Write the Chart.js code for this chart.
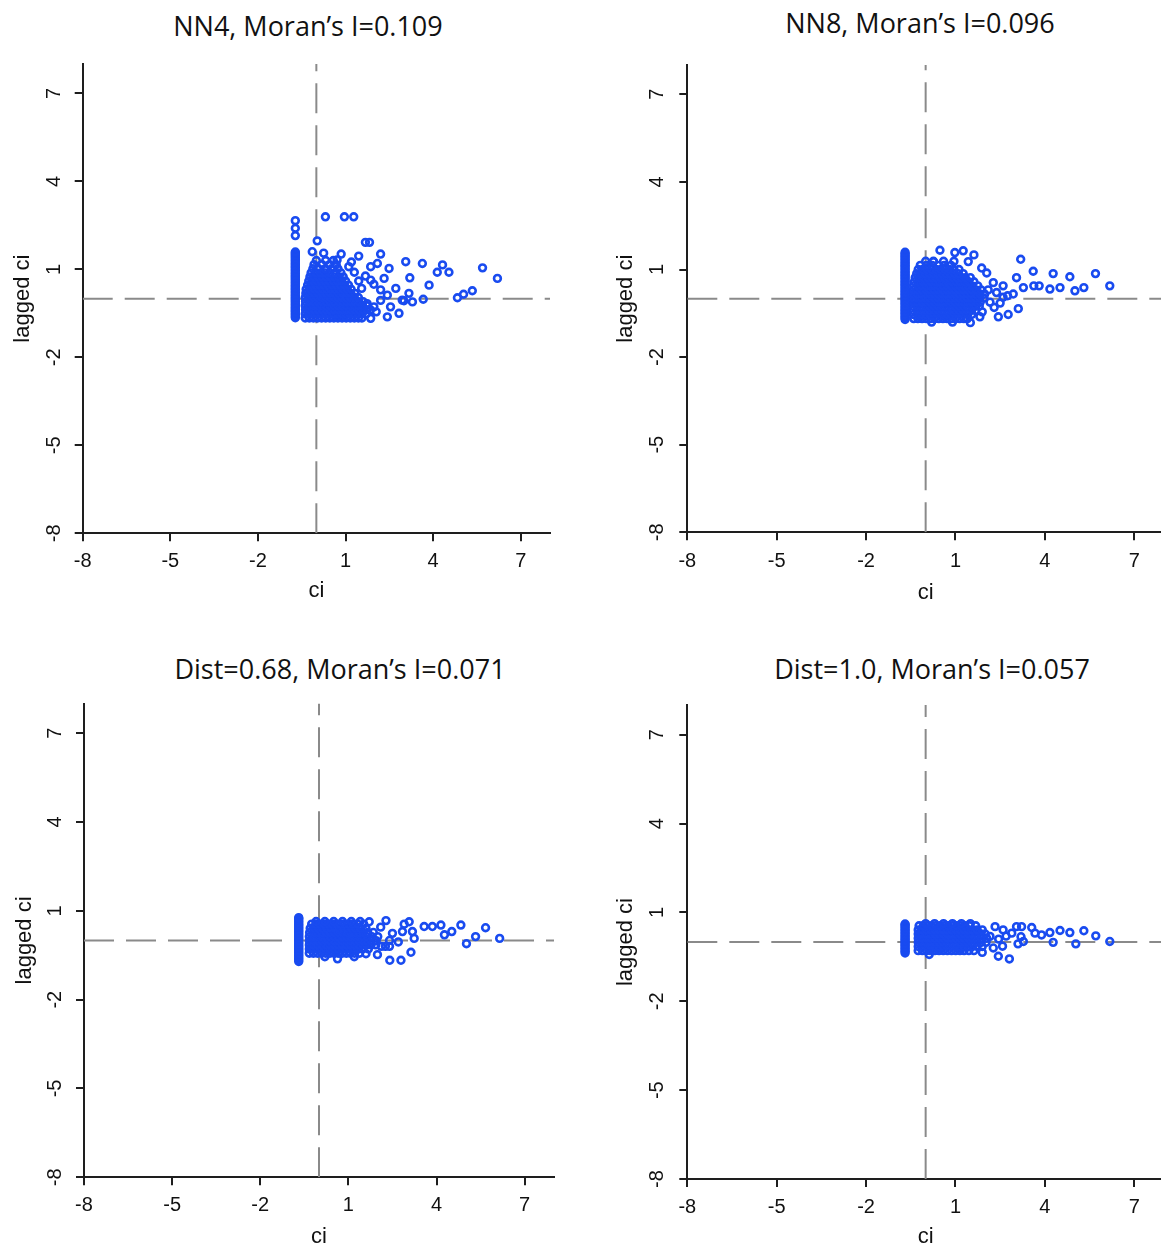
<!DOCTYPE html>
<html>
<head>
<meta charset="utf-8">
<script src="https://cdn.jsdelivr.net/npm/chart.js@4.4.0/dist/chart.umd.min.js"></script>
<style>
html, body { margin: 0; padding: 0; background: #ffffff; overflow: hidden; width: 1161px; height: 1245px; position: relative; }
canvas { position: absolute; }
.ptitle { position: absolute; font-family: "Open Sans", "Noto Sans", sans-serif; font-size: 27px; color: #111; white-space: nowrap; transform: translate(-50%, -50%); line-height: 1; }
</style>
</head>
<body>
<script>
// ---------- shared axis data ----------
const tickValues = [-8, -5, -2, 1, 4, 7];
const axisMin = -8;
const axisMax = 8;
const meanCi = 0;        // vertical dashed line
const meanLaggedCi = 0;  // horizontal dashed line
const xAxisTitle = 'ci';
const yAxisTitle = 'lagged ci';
const panelTitles = [
  'NN4, Moran\u2019s I=0.109',
  'NN8, Moran\u2019s I=0.096',
  'Dist=0.68, Moran\u2019s I=0.071',
  'Dist=1.0, Moran\u2019s I=0.057'
];

// ---------- NN4 ----------
const nn4ColumnX = -0.72;
const nn4ColumnY = [-0.65,-0.6,-0.55,-0.5,-0.45,-0.4,-0.35,-0.3,-0.25,-0.2,-0.15,-0.1,-0.05,0,0.05,0.1,0.15,0.2,0.25,0.3,0.35,0.4,0.45,0.5,0.55,0.6,0.65,0.7,0.75,0.8,0.85,0.9,0.95,1.0,1.05,1.1,1.15,1.2,1.25,1.3,1.35,1.4,1.45,1.5,1.55,1.59,2.15,2.40,2.66];
const nn4CloudRows = [
  [-0.66, [-0.38,-0.24,-0.1,0.04,0.18,0.32,0.46,0.6,0.74,0.88,1.02,1.16,1.3,1.44,1.56]],
  [-0.52, [-0.38,-0.25,-0.11,0.03,0.17,0.31,0.45,0.59,0.73,0.87,1.01,1.15,1.29,1.43,1.57,1.71]],
  [-0.38, [-0.37,-0.23,-0.09,0.05,0.19,0.33,0.47,0.61,0.75,0.89,1.03,1.17,1.31,1.45,1.59,1.73,1.85]],
  [-0.24, [-0.38,-0.24,-0.1,0.04,0.18,0.32,0.46,0.6,0.74,0.88,1.02,1.16,1.3,1.44,1.58,1.72]],
  [-0.10, [-0.37,-0.23,-0.09,0.05,0.19,0.33,0.47,0.61,0.75,0.89,1.03,1.17,1.31,1.45,1.6]],
  [0.04, [-0.38,-0.24,-0.1,0.04,0.18,0.32,0.46,0.6,0.74,0.88,1.02,1.16,1.3,1.44]],
  [0.18, [-0.36,-0.22,-0.08,0.06,0.2,0.34,0.48,0.62,0.76,0.9,1.04,1.18,1.32]],
  [0.32, [-0.35,-0.21,-0.07,0.07,0.21,0.35,0.49,0.63,0.77,0.91,1.05,1.19]],
  [0.46, [-0.3,-0.16,-0.02,0.12,0.26,0.4,0.54,0.68,0.82,0.96,1.1]],
  [0.60, [-0.26,-0.12,0.02,0.16,0.3,0.44,0.58,0.72,0.86,1.0]],
  [0.74, [-0.22,-0.08,0.06,0.2,0.34,0.48,0.62,0.76,0.92]],
  [0.88, [-0.18,-0.02,0.14,0.3,0.46,0.64,0.84]],
  [1.02, [-0.12,0.08,0.3,0.52,0.74]],
  [1.16, [-0.08,0.2,0.45,0.68]],
  [1.30, [0.0,0.32,0.58]]
];
const nn4Outliers = [
  [0.31,2.79],[0.96,2.79],[1.28,2.79],[0.03,1.97],[1.68,1.92],[1.82,1.92],[-0.14,1.60],[0.25,1.55],
  [0.85,1.52],[1.45,1.45],[2.20,1.52],[2.09,1.20],[1.86,1.09],[1.11,1.09],[0.71,1.32],[2.49,1.03],
  [3.06,1.26],[3.63,1.20],[4.32,1.15],[4.14,0.90],[4.54,0.90],[5.69,1.05],[6.20,0.69],[3.20,0.71],
  [2.32,0.69],[1.68,0.77],[1.86,0.63],[1.97,0.49],[3.86,0.46],[2.72,0.35],[3.17,0.18],[2.43,0.12],
  [5.34,0.27],[5.04,0.15],[4.83,0.03],[3.66,-0.02],[3.00,-0.07],[3.29,-0.11],[2.94,-0.05],[2.20,-0.06],
  [1.74,-0.17],[1.97,-0.28],[2.54,-0.28],[2.83,-0.50],[2.43,-0.62],[1.86,-0.67],[2.05,-0.45],[2.2,0.3],
  [1.55,0.35],[1.45,0.6],[1.3,0.9],[1.2,1.25]
];

// ---------- NN8 ----------
const nn8ColumnX = -0.69;
const nn8ColumnY = [-0.71,-0.66,-0.61,-0.56,-0.51,-0.46,-0.41,-0.36,-0.31,-0.26,-0.21,-0.16,-0.11,-0.06,-0.01,0.04,0.09,0.14,0.19,0.24,0.29,0.34,0.39,0.44,0.49,0.54,0.59,0.64,0.69,0.74,0.79,0.84,0.89,0.94,0.99,1.04,1.09,1.14,1.19,1.24,1.29,1.34,1.39,1.44,1.49,1.54,1.59];
const nn8CloudRows = [
  [-0.68, [-0.40,-0.26,-0.12,0.02,0.16,0.30,0.44,0.58,0.72,0.86,1.0,1.14,1.28,1.40]],
  [-0.54, [-0.41,-0.27,-0.13,0.01,0.15,0.29,0.43,0.57,0.71,0.85,0.99,1.13,1.27,1.41,1.55]],
  [-0.40, [-0.42,-0.28,-0.14,0.0,0.14,0.28,0.42,0.56,0.70,0.84,0.98,1.12,1.26,1.40,1.54,1.68]],
  [-0.26, [-0.42,-0.28,-0.14,0.0,0.14,0.28,0.42,0.56,0.70,0.84,0.98,1.12,1.26,1.40,1.54,1.68,1.8]],
  [-0.12, [-0.41,-0.27,-0.13,0.01,0.15,0.29,0.43,0.57,0.71,0.85,0.99,1.13,1.27,1.41,1.55,1.69,1.83]],
  [0.02, [-0.42,-0.28,-0.14,0.0,0.14,0.28,0.42,0.56,0.70,0.84,0.98,1.12,1.26,1.40,1.54,1.68,1.82,1.96]],
  [0.16, [-0.42,-0.28,-0.14,0.0,0.14,0.28,0.42,0.56,0.70,0.84,0.98,1.12,1.26,1.40,1.54,1.68,1.82,1.98]],
  [0.30, [-0.41,-0.27,-0.13,0.01,0.15,0.29,0.43,0.57,0.71,0.85,0.99,1.13,1.27,1.41,1.55,1.69,1.86]],
  [0.44, [-0.40,-0.26,-0.12,0.02,0.16,0.30,0.44,0.58,0.72,0.86,1.0,1.14,1.28,1.42,1.56,1.75]],
  [0.58, [-0.38,-0.24,-0.10,0.04,0.18,0.32,0.46,0.60,0.74,0.88,1.02,1.16,1.30,1.44,1.62]],
  [0.72, [-0.35,-0.21,-0.07,0.07,0.21,0.35,0.49,0.63,0.77,0.91,1.05,1.19,1.33,1.5]],
  [0.86, [-0.30,-0.16,-0.02,0.12,0.26,0.40,0.54,0.68,0.82,0.96,1.10,1.26]],
  [1.00, [-0.25,-0.10,0.05,0.20,0.35,0.50,0.65,0.80,0.95,1.12]],
  [1.14, [-0.18,0.02,0.22,0.42,0.62,0.85]],
  [1.28, [0.0,0.26,0.6,0.95]]
];
const nn8Outliers = [
  [0.48,1.66],[0.98,1.58],[1.26,1.64],[1.62,1.50],[0.26,1.27],[1.43,1.27],[3.19,1.35],[1.88,1.05],
  [2.05,0.88],[3.05,0.72],[3.61,0.94],[4.28,0.86],[4.84,0.75],[5.70,0.86],[6.18,0.44],[3.28,0.38],
  [3.63,0.44],[3.81,0.44],[4.17,0.33],[4.51,0.38],[5.01,0.27],[5.31,0.38],[2.94,0.16],[3.11,-0.34],
  [2.77,-0.54],[2.44,-0.62],[1.82,-0.62],[2.16,-0.12],[2.60,0.05],[2.38,0.21],[2.27,0.55],[2.60,0.44],
  [2.1,0.3],[2.3,-0.3],[1.9,-0.45],[2.5,-0.15],[2.75,0.1],[1.5,-0.82],[0.9,-0.8],[0.2,-0.8]
];

// ---------- Dist = 0.68 ----------
const d068ColumnX = -0.69;
const d068ColumnY = [-0.71,-0.66,-0.61,-0.56,-0.51,-0.46,-0.41,-0.36,-0.31,-0.26,-0.21,-0.16,-0.11,-0.06,-0.01,0.04,0.09,0.14,0.19,0.24,0.29,0.34,0.39,0.44,0.49,0.54,0.59,0.64,0.69,0.74,0.77];
const d068CloudRows = [
  [-0.43, [-0.33,-0.19,-0.05,0.09,0.23,0.37,0.51,0.65,0.79,0.93,1.07,1.21,1.38]],
  [-0.29, [-0.33,-0.19,-0.05,0.09,0.23,0.37,0.51,0.65,0.79,0.93,1.07,1.21,1.35,1.49,1.68]],
  [-0.15, [-0.33,-0.19,-0.05,0.09,0.23,0.37,0.51,0.65,0.79,0.93,1.07,1.21,1.35,1.49,1.63,1.77,1.93]],
  [-0.01, [-0.33,-0.19,-0.05,0.09,0.23,0.37,0.51,0.65,0.79,0.93,1.07,1.21,1.35,1.49,1.63,1.77,1.95]],
  [0.13, [-0.33,-0.19,-0.05,0.09,0.23,0.37,0.51,0.65,0.79,0.93,1.07,1.21,1.35,1.49,1.63,1.80,2.0]],
  [0.27, [-0.32,-0.18,-0.04,0.10,0.24,0.38,0.52,0.66,0.80,0.94,1.08,1.22,1.36,1.50,1.66,1.85]],
  [0.41, [-0.30,-0.16,-0.02,0.12,0.26,0.40,0.54,0.68,0.82,0.96,1.10,1.24,1.40,1.60]],
  [0.55, [-0.25,-0.11,0.03,0.17,0.31,0.45,0.59,0.73,0.87,1.01,1.15,1.32,1.52]],
  [0.64, [-0.1,0.2,0.5,0.8,1.1,1.4]]
];
const d068Outliers = [
  [0.63,-0.62],[1.99,-0.48],[2.41,-0.67],[2.79,-0.67],[3.13,-0.40],[3.07,0.63],[2.28,0.67],[1.71,0.63],
  [3.58,0.47],[3.86,0.47],[4.15,0.52],[4.83,0.52],[4.27,0.19],[4.52,0.30],[5.67,0.43],[5.33,0.13],
  [5.02,-0.11],[6.15,0.07],[3.24,0.07],[3.18,0.30],[2.84,0.30],[2.50,0.24],[2.12,-0.20],[2.26,-0.20],
  [2.40,-0.20],[2.1,0.45],[2.4,0.0],[2.7,-0.05],[1.6,-0.45],[1.2,-0.55],[0.2,-0.55],[2.9,0.55]
];

// ---------- Dist = 1.0 ----------
const d10ColumnX = -0.69;
const d10ColumnY = [-0.37,-0.32,-0.27,-0.22,-0.17,-0.12,-0.07,-0.02,0.03,0.08,0.13,0.18,0.23,0.28,0.33,0.38,0.43,0.48,0.53,0.58,0.61];
const d10CloudRows = [
  [-0.29, [-0.25,-0.11,0.03,0.17,0.31,0.45,0.59,0.73,0.87,1.01,1.15,1.29,1.45,1.62]],
  [-0.15, [-0.25,-0.11,0.03,0.17,0.31,0.45,0.59,0.73,0.87,1.01,1.15,1.29,1.43,1.57,1.73,1.90]],
  [-0.01, [-0.25,-0.11,0.03,0.17,0.31,0.45,0.59,0.73,0.87,1.01,1.15,1.29,1.43,1.57,1.71,1.86,2.03]],
  [0.13, [-0.25,-0.11,0.03,0.17,0.31,0.45,0.59,0.73,0.87,1.01,1.15,1.29,1.43,1.57,1.71,1.86,2.05]],
  [0.27, [-0.25,-0.11,0.03,0.17,0.31,0.45,0.59,0.73,0.87,1.01,1.15,1.29,1.43,1.57,1.71,1.86,2.0]],
  [0.41, [-0.25,-0.11,0.03,0.17,0.31,0.45,0.59,0.73,0.87,1.01,1.15,1.29,1.43,1.57,1.73,1.9]],
  [0.55, [-0.22,-0.08,0.06,0.20,0.34,0.48,0.62,0.76,0.90,1.04,1.18,1.32,1.48,1.68]],
  [0.62, [0.0,0.3,0.6,0.9,1.2,1.5]]
];
const d10Outliers = [
  [0.12,-0.42],[2.44,-0.48],[2.81,-0.57],[2.58,-0.14],[3.05,0.52],[3.22,0.52],[3.56,0.49],[3.67,0.30],
  [3.89,0.24],[4.17,0.32],[4.51,0.39],[4.84,0.32],[4.28,-0.01],[5.04,-0.06],[5.31,0.38],[5.71,0.21],
  [6.18,0.02],[3.28,0.02],[3.10,-0.06],[3.20,0.18],[2.89,0.30],[2.33,0.52],[2.60,0.41],[2.16,0.19],
  [2.27,-0.20],[2.45,0.1],[2.7,0.2],[1.9,-0.35]
];

// ---------- styling / layout ----------
const pointBlue = 'rgb(25, 75, 240)';
const axisColor = '#1e1e1e';
const textColor = '#111111';
const dashColor = '#8a8a8a';
const tickFont = { family: '"Liberation Sans", Arial, sans-serif', size: 20 };
const axisTitleFont = { family: '"Liberation Sans", Arial, sans-serif', size: 22 };

const panels = [
  { title: panelTitles[0], titleAt: [308, 25], colX: nn4ColumnX, colY: nn4ColumnY, rows: nn4CloudRows, outliers: nn4Outliers,
    box: { left: 0, top: 40, w: 580, h: 580 }, pad: { left: 0, top: 24, right: 30, bottom: 0 },
    yW: 82.7, xH: 86.7, xTickPad: 7.7, yTickPad: 11.8, xTitlePad: 15.8, yTitlePad: 9.8 },
  { title: panelTitles[1], titleAt: [920, 22], colX: nn8ColumnX, colY: nn8ColumnY, rows: nn8CloudRows, outliers: nn8Outliers,
    box: { left: 600, top: 40, w: 570, h: 580 }, pad: { left: 0, top: 14, right: 6, bottom: 0 },
    yW: 87.3, xH: 87.7, xTickPad: 8.7, yTickPad: 13.1, xTitlePad: 13.8, yTitlePad: 12.8 },
  { title: panelTitles[2], titleAt: [340, 668], colX: d068ColumnX, colY: d068ColumnY, rows: d068CloudRows, outliers: d068Outliers,
    box: { left: 0, top: 680, w: 580, h: 600 }, pad: { left: 0, top: 20.5, right: 26, bottom: 0 },
    yW: 84, xH: 102.7, xTickPad: 7.7, yTickPad: 11.6, xTitlePad: 29.8, yTitlePad: 11.8 },
  { title: panelTitles[3], titleAt: [932, 668], colX: d10ColumnX, colY: d10ColumnY, rows: d10CloudRows, outliers: d10Outliers,
    box: { left: 600, top: 680, w: 570, h: 600 }, pad: { left: 0, top: 19, right: 6, bottom: 0 },
    yW: 87.3, xH: 101, xTickPad: 8, yTickPad: 13.1, xTitlePad: 29.8, yTitlePad: 12.8 }
];

function pointDataset(label, data) {
  return {
    label: label,
    data: data,
    showLine: false,
    pointStyle: 'circle',
    pointRadius: 3.4,
    pointHoverRadius: 3.4,
    pointBorderWidth: 2.6,
    pointBorderColor: pointBlue,
    pointBackgroundColor: 'rgba(255,255,255,0)',
    borderColor: pointBlue,
    backgroundColor: 'rgba(255,255,255,0)',
    order: 0
  };
}

function dashDataset(label, data) {
  return {
    label: label,
    data: data,
    showLine: true,
    fill: false,
    tension: 0,
    borderColor: dashColor,
    borderWidth: 2,
    borderDash: [30, 12],
    pointRadius: 0,
    pointHoverRadius: 0,
    order: 1
  };
}

function buildPanel(p) {
  const t = document.createElement('div');
  t.className = 'ptitle';
  t.textContent = p.title;
  t.style.left = p.titleAt[0] + 'px';
  t.style.top = p.titleAt[1] + 'px';
  document.body.appendChild(t);

  const canvas = document.createElement('canvas');
  canvas.width = p.box.w;
  canvas.height = p.box.h;
  canvas.style.left = p.box.left + 'px';
  canvas.style.top = p.box.top + 'px';
  canvas.style.width = p.box.w + 'px';
  canvas.style.height = p.box.h + 'px';
  document.body.appendChild(canvas);

  const cloud = [];
  p.rows.forEach(function (r) { r[1].forEach(function (x) { cloud.push({ x: x, y: r[0] }); }); });
  p.outliers.forEach(function (o) { cloud.push({ x: o[0], y: o[1] }); });
  const column = p.colY.map(function (y) { return { x: p.colX, y: y }; });

  new Chart(canvas, {
    type: 'scatter',
    data: {
      datasets: [
        pointDataset('ci = 0', column),
        pointDataset('ci > 0', cloud),
        dashDataset('mean lagged ci', [{ x: axisMin, y: meanLaggedCi }, { x: axisMax, y: meanLaggedCi }]),
        dashDataset('mean ci', [{ x: meanCi, y: axisMin }, { x: meanCi, y: axisMax }])
      ]
    },
    options: {
      responsive: false,
      animation: false,
      events: [],
      layout: { padding: p.pad },
      plugins: { legend: { display: false }, title: { display: false }, tooltip: { enabled: false } },
      scales: {
        x: {
          type: 'linear', position: 'bottom', min: axisMin, max: axisMax,
          afterBuildTicks: function (s) { s.ticks = tickValues.map(function (v) { return { value: v }; }); },
          afterFit: function (s) { s.height = p.xH; },
          grid: { display: true, drawOnChartArea: false, drawTicks: true, tickLength: 8, color: axisColor, lineWidth: 2 },
          border: { display: true, color: axisColor, width: 2 },
          ticks: { autoSkip: false, minRotation: 0, maxRotation: 0, padding: p.xTickPad, color: textColor, font: tickFont,
                   callback: function (v) { return String(v); } },
          title: { display: true, text: xAxisTitle, color: textColor, font: axisTitleFont, padding: { top: 0, bottom: p.xTitlePad } }
        },
        y: {
          type: 'linear', position: 'left', min: axisMin, max: axisMax,
          afterBuildTicks: function (s) { s.ticks = tickValues.map(function (v) { return { value: v }; }); },
          afterFit: function (s) { s.width = p.yW; },
          grid: { display: true, drawOnChartArea: false, drawTicks: true, tickLength: 8, color: axisColor, lineWidth: 2 },
          border: { display: true, color: axisColor, width: 2 },
          ticks: { autoSkip: false, minRotation: 90, maxRotation: 90, crossAlign: 'center', padding: p.yTickPad, color: textColor, font: tickFont,
                   callback: function (v) { return String(v); } },
          title: { display: true, text: yAxisTitle, color: textColor, font: axisTitleFont, padding: { top: p.yTitlePad, bottom: 0 } }
        }
      }
    }
  });
}

panels.forEach(buildPanel);
</script>
</body>
</html>
